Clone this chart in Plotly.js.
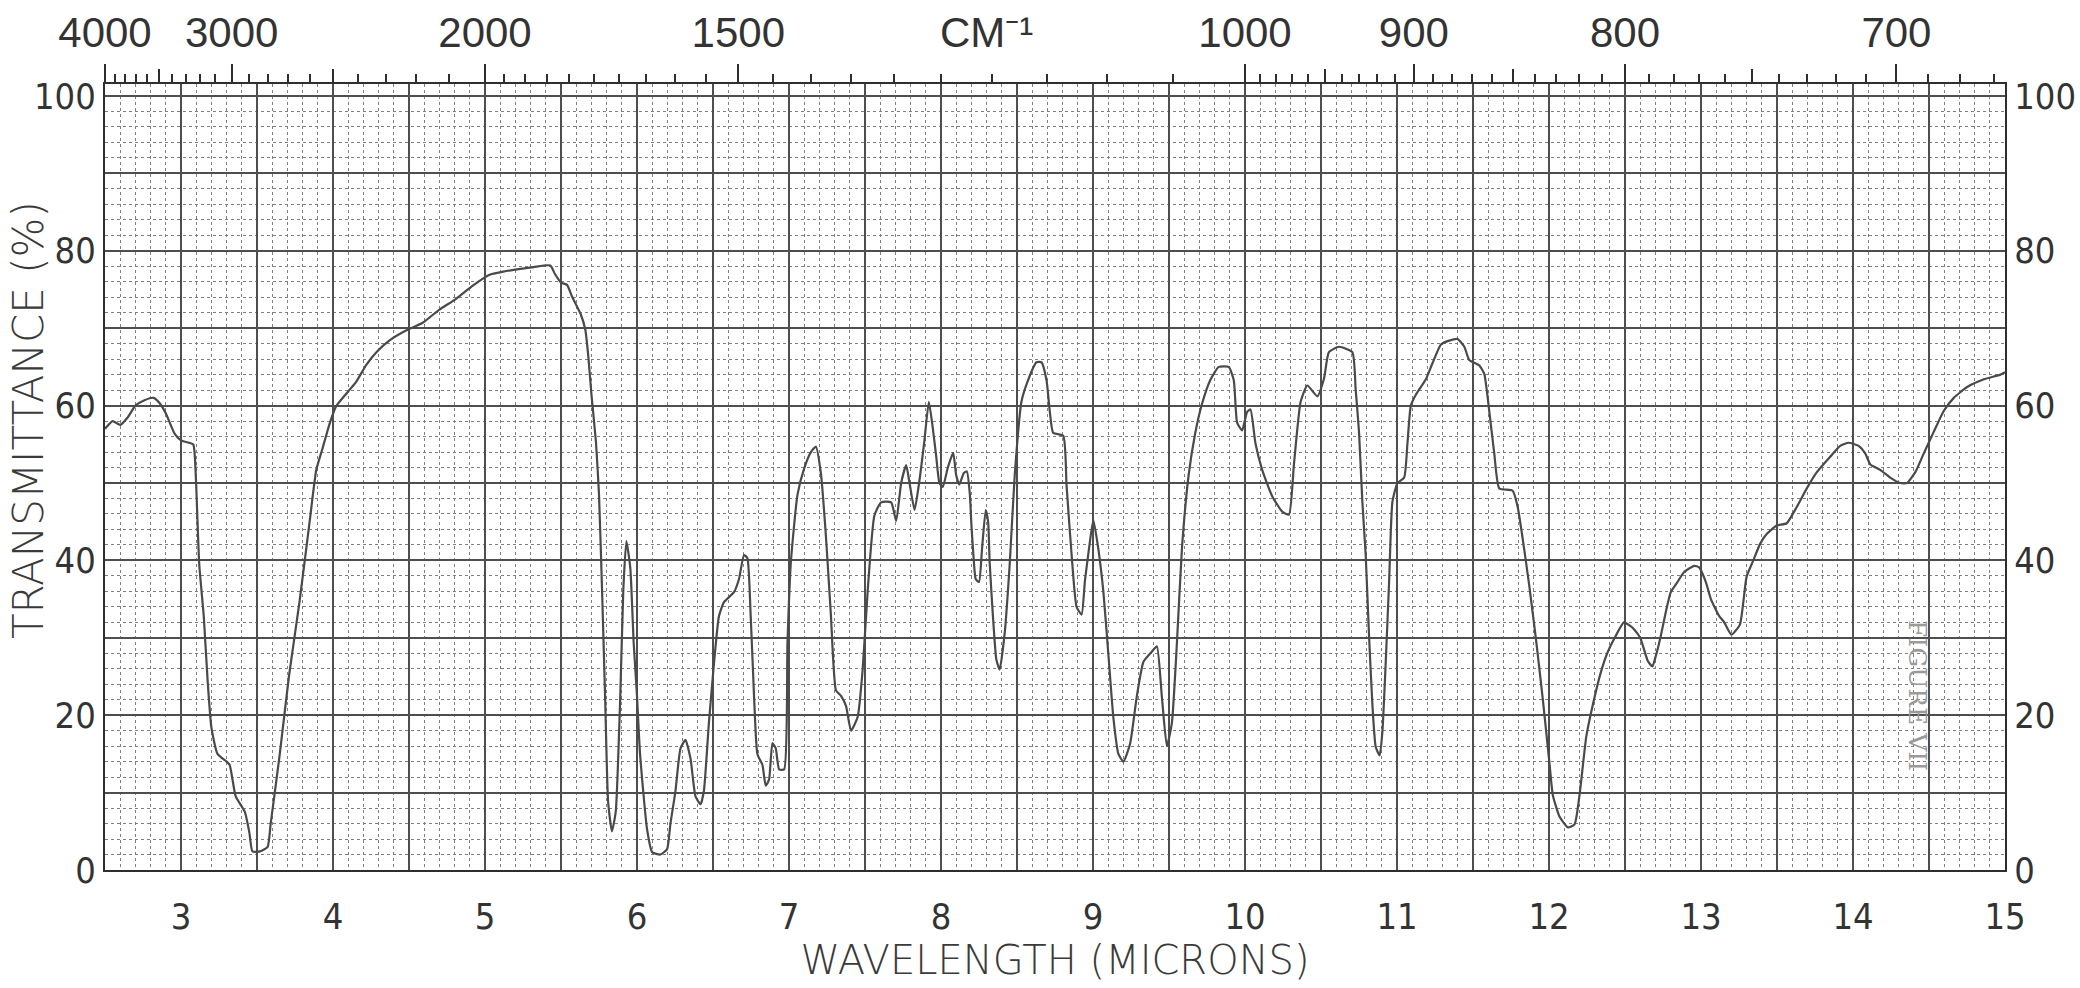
<!DOCTYPE html>
<html>
<head>
<meta charset="utf-8">
<script src="https://cdn.plot.ly/plotly-3.0.1.min.js"></script>
<style>
  html, body { margin: 0; padding: 0; background: #ffffff; }
  #chart { width: 2080px; height: 988px; }
</style>
</head>
<body>
<div id="chart"></div>
<script>
// ---- Spectrum data (wavelength in microns, transmittance in %) ----
const wavelength = [
  2.50, 2.55, 2.60, 2.65, 2.70, 2.76, 2.82, 2.86, 2.90, 2.93, 2.96, 3.00, 3.08, 3.09, 3.10, 3.12, 3.15, 3.175, 3.20, 3.24,
  3.30, 3.32, 3.36, 3.42, 3.45, 3.47, 3.52, 3.57, 3.59, 3.65, 3.71, 3.78, 3.85, 3.89, 3.93, 3.98, 4.02, 4.09, 4.15, 4.22,
  4.29, 4.37, 4.48, 4.59, 4.70, 4.81, 4.92, 5.03, 5.12, 5.21, 5.32, 5.43, 5.46, 5.50, 5.54, 5.57, 5.63, 5.66, 5.68, 5.70,
  5.73, 5.75, 5.77, 5.79, 5.81, 5.835, 5.86, 5.89, 5.91, 5.93, 5.956, 5.978, 6.00, 6.02, 6.066, 6.10, 6.154, 6.198, 6.22, 6.253,
  6.286, 6.319, 6.352, 6.385, 6.418, 6.44, 6.473, 6.506, 6.539, 6.572, 6.638, 6.671, 6.704, 6.726, 6.748, 6.77, 6.792, 6.825, 6.847, 6.869,
  6.891, 6.913, 6.935, 6.968, 6.99, 7.012, 7.056, 7.10, 7.144, 7.177, 7.21, 7.243, 7.276, 7.309, 7.342, 7.375, 7.408, 7.452, 7.485, 7.518,
  7.562, 7.606, 7.672, 7.705, 7.738, 7.771, 7.793, 7.826, 7.858, 7.891, 7.92, 7.946, 7.968, 7.99, 8.012, 8.045, 8.08, 8.10, 8.12, 8.15,
  8.17, 8.19, 8.20, 8.215, 8.228, 8.25, 8.27, 8.294, 8.31, 8.32, 8.342, 8.364, 8.386, 8.419, 8.452, 8.485, 8.529, 8.573, 8.628, 8.661,
  8.694, 8.716, 8.738, 8.804, 8.826, 8.859, 8.892, 8.925, 8.947, 8.969, 9.002, 9.035, 9.068, 9.101, 9.134, 9.167, 9.20, 9.244, 9.288, 9.332,
  9.387, 9.42, 9.453, 9.486, 9.519, 9.552, 9.585, 9.629, 9.673, 9.717, 9.772, 9.827, 9.893, 9.926, 9.948, 9.981, 10.014, 10.036, 10.069, 10.113,
  10.179, 10.245, 10.289, 10.322, 10.366, 10.41, 10.476, 10.52, 10.552, 10.618, 10.706, 10.728, 10.75, 10.772, 10.794, 10.816, 10.838, 10.86, 10.886, 10.904,
  10.926, 10.948, 10.97, 11.003, 11.047, 11.069, 11.091, 11.124, 11.19, 11.234, 11.289, 11.344, 11.399, 11.443, 11.475, 11.541, 11.574, 11.607, 11.64, 11.673,
  11.761, 11.794, 11.827, 11.871, 11.915, 11.959, 12.003, 12.025, 12.069, 12.124, 12.168, 12.201, 12.245, 12.289, 12.339, 12.383, 12.427, 12.493, 12.537, 12.559,
  12.60, 12.65, 12.68, 12.702, 12.735, 12.768, 12.801, 12.845, 12.889, 12.955, 12.988, 13.032, 13.065, 13.12, 13.153, 13.20, 13.256, 13.30, 13.344, 13.388,
  13.432, 13.498, 13.564, 13.63, 13.696, 13.762, 13.85, 13.916, 13.971, 14.037, 14.081, 14.114, 14.179, 14.245, 14.311, 14.355, 14.41, 14.465, 14.531, 14.597,
  14.663, 14.751, 14.861, 14.971, 15.0
];
const transmittance = [
  57.0, 58.0, 57.5, 58.5, 60.0, 60.7, 61.0, 60.3, 59.0, 57.6, 56.3, 55.5, 55.0, 53.7, 49.7, 39.5, 32.7, 24.5, 18.4, 15.0,
  14.0, 13.6, 9.5, 7.5, 4.8, 2.4, 2.4, 3.0, 6.0, 15.0, 25.0, 34.7, 45.6, 51.7, 54.4, 57.8, 59.9, 61.6, 63.0, 65.3,
  67.0, 68.4, 69.7, 70.7, 72.4, 73.8, 75.5, 76.9, 77.3, 77.6, 77.9, 78.1, 77.0, 75.9, 75.6, 74.2, 71.8, 69.8, 66.3, 61.5,
  55.3, 48.5, 36.2, 22.5, 8.8, 5.0, 7.5, 22.5, 36.2, 42.5, 39.0, 29.4, 22.5, 15.0, 5.3, 2.3, 2.0, 2.7, 6.0, 10.2,
  15.7, 16.8, 14.4, 9.5, 8.5, 10.2, 19.0, 26.6, 32.8, 34.6, 35.9, 37.6, 40.7, 40.3, 32.8, 22.5, 15.0, 13.6, 10.9, 11.7,
  16.4, 15.7, 13.0, 13.0, 29.4, 39.7, 48.5, 51.9, 54.0, 54.7, 51.2, 43.1, 32.8, 23.2, 22.5, 21.2, 18.0, 19.8, 26.0, 36.2,
  45.8, 47.5, 47.5, 45.1, 50.0, 52.3, 50.0, 46.5, 50.3, 55.5, 60.5, 57.1, 53.5, 50.0, 49.5, 52.0, 53.9, 51.0, 49.8, 51.3,
  51.5, 48.5, 44.6, 40.2, 37.6, 37.2, 41.5, 46.5, 45.0, 39.8, 32.7, 27.2, 25.9, 30.6, 39.5, 51.0, 60.5, 63.3, 65.6, 65.6,
  63.3, 59.2, 56.5, 56.1, 49.7, 40.8, 34.0, 33.0, 37.4, 40.8, 45.2, 41.5, 36.0, 27.9, 19.7, 15.0, 14.0, 16.3, 22.4, 26.9,
  28.2, 28.9, 22.4, 16.0, 19.0, 29.3, 41.5, 51.0, 56.5, 60.2, 63.3, 65.0, 65.0, 63.3, 57.8, 56.8, 59.2, 59.5, 55.1, 51.7,
  48.3, 46.3, 45.9, 52.4, 60.5, 62.6, 61.2, 63.5, 66.9, 67.6, 66.9, 62.1, 56.6, 47.6, 40.7, 30.3, 21.4, 15.9, 14.8, 17.9,
  26.9, 37.2, 47.6, 50.0, 50.7, 55.2, 60.0, 61.4, 63.4, 65.5, 67.9, 68.4, 68.6, 67.6, 65.9, 65.2, 64.1, 59.3, 53.8, 49.3,
  49.0, 46.9, 42.8, 36.6, 29.7, 22.1, 13.8, 9.7, 6.9, 5.5, 5.9, 9.7, 17.2, 21.4, 25.4, 28.0, 29.8, 32.0, 31.5, 31.1,
  30.0, 27.0, 26.3, 27.6, 30.2, 33.3, 35.9, 37.2, 38.5, 39.3, 39.1, 37.2, 35.0, 32.8, 32.0, 30.4, 31.7, 37.9, 40.0, 42.1,
  43.4, 44.5, 44.8, 46.9, 49.3, 51.4, 53.4, 54.8, 55.2, 54.8, 53.8, 52.4, 51.7, 50.7, 50.0, 50.0, 51.4, 53.8, 56.6, 59.3,
  61.0, 62.4, 63.4, 64.0, 64.3
];

// ---- Tick labels ----
const micronLabels = [3, 4, 5, 6, 7, 8, 9, 10, 11, 12, 13, 14, 15];
const micronGrid = [3, 3.5, 4, 4.5, 5, 5.5, 6, 6.5, 7, 7.5, 8, 8.5, 9, 9.5, 10, 10.5, 11, 11.5, 12, 12.5, 13, 13.5, 14, 14.5, 15];
const transGrid = [0, 10, 20, 30, 40, 50, 60, 70, 80, 90, 100];
const transLabels = [0, 20, 40, 60, 80, 100];
const wavenumberLabels = [4000, 3000, 2000, 1500, 1000, 900, 800, 700];
const wavenumberMedium = [3500, 2500, 950, 850, 750];
const wavenumberMinor = [
  3900, 3800, 3700, 3600, 3400, 3300, 3200, 3100,
  2900, 2800, 2700, 2600, 2400, 2300, 2200, 2100,
  1950, 1900, 1850, 1800, 1750, 1700, 1650, 1600, 1550,
  1450, 1400, 1350, 1300, 1250, 1200, 1150, 1100, 1050,
  990, 980, 970, 960, 940, 930, 920, 910,
  890, 880, 870, 860, 840, 830, 820, 810,
  790, 780, 770, 760, 740, 730, 720, 710,
  690, 680, 670
];
const xTitle = 'WAVELENGTH (MICRONS)';
const yTitle = 'TRANSMITTANCE (%)';
const unitLabel = 'CM⁻¹';
const figureLabel = 'FIGURE VII';

const toMicron = nu => 10000 / nu;

const RANGE_X = [2.5, 15];
const RANGE_Y = [0, 101.55];
const INK = '#2e2e2e';
const NUM_FONT = {family: '"DejaVu Sans Condensed", "Liberation Sans Narrow", "Liberation Sans", sans-serif', size: 36, color: '#333333'};
const TOP_FONT = {family: '"Liberation Sans", Arimo, sans-serif', size: 42, color: '#333333'};
const TITLE_FONT = {family: '"DejaVu Sans", "Liberation Sans", sans-serif', size: 40, color: '#3a3a3a', weight: 200};

const helper = (xa, ya) => ({type: 'scatter', mode: 'lines', x: [], y: [], xaxis: xa, yaxis: ya, showlegend: false, hoverinfo: 'skip'});

const traces = [
  {
    type: 'scatter', mode: 'lines', x: wavelength, y: transmittance,
    line: {color: '#4a4a4a', width: 2.2, shape: 'spline', smoothing: 0.5},
    hoverinfo: 'x+y', showlegend: false, name: 'Transmittance'
  },
  helper('x2', 'y'), helper('x3', 'y'), helper('x4', 'y'), helper('x', 'y2')
];

const topAxisBase = {
  overlaying: 'x', side: 'top', anchor: 'y', range: RANGE_X, fixedrange: true,
  showgrid: false, zeroline: false, ticks: 'outside', tickcolor: INK, tickwidth: 2,
  tickmode: 'array', showline: true, linecolor: INK, linewidth: 2
};

const layout = {
  width: 2080, height: 988,
  margin: {l: 105, r: 75, t: 84, b: 118, pad: 0},
  paper_bgcolor: '#ffffff', plot_bgcolor: '#ffffff',
  showlegend: false, hovermode: false,
  xaxis: {
    range: RANGE_X, fixedrange: true, automargin: false,
    tickmode: 'array', tickvals: micronGrid,
    ticktext: micronGrid.map(v => micronLabels.includes(v) ? String(v) : ''),
    ticks: '', tickfont: NUM_FONT, ticklabelstandoff: 14,
    showgrid: true, gridcolor: '#4e4e4e', gridwidth: 2,
    minor: {tick0: 2.5, dtick: 0.1, showgrid: true, gridcolor: '#808080', griddash: 'dot', gridwidth: 1},
    zeroline: false, showline: true, linecolor: INK, linewidth: 2,
    title: {text: xTitle, font: TITLE_FONT, standoff: 4}
  },
  yaxis: {
    range: RANGE_Y, fixedrange: true, automargin: false,
    tickmode: 'array', tickvals: transGrid,
    ticktext: transGrid.map(v => transLabels.includes(v) ? String(v) : ''),
    ticks: '', tickfont: NUM_FONT, ticklabelstandoff: 0,
    showgrid: true, gridcolor: '#4e4e4e', gridwidth: 2,
    minor: {tick0: 0, dtick: 2, showgrid: true, gridcolor: '#808080', griddash: 'dot', gridwidth: 1},
    zeroline: false, showline: true, linecolor: INK, linewidth: 2
  },
  yaxis2: {
    overlaying: 'y', side: 'right', anchor: 'x', range: RANGE_Y, fixedrange: true,
    tickmode: 'array', tickvals: transLabels, ticktext: transLabels.map(String),
    ticks: '', tickfont: NUM_FONT, ticklabelstandoff: 0,
    showgrid: false, zeroline: false, showline: true, linecolor: INK, linewidth: 2
  },
  xaxis2: Object.assign({}, topAxisBase, {
    tickvals: wavenumberLabels.map(toMicron), ticktext: wavenumberLabels.map(String),
    ticklen: 18, tickfont: TOP_FONT, ticklabelstandoff: 0
  }),
  xaxis3: Object.assign({}, topAxisBase, {
    tickvals: wavenumberMedium.map(toMicron), ticklen: 13, showticklabels: false
  }),
  xaxis4: Object.assign({}, topAxisBase, {
    tickvals: wavenumberMinor.map(toMicron), ticklen: 8, tickwidth: 2, showticklabels: false
  }),
  annotations: [
    {text: yTitle, xref: 'paper', x: -0.0405, xanchor: 'center', yref: 'paper', y: 0.5725, yanchor: 'middle',
     textangle: -90, showarrow: false, font: Object.assign({}, TITLE_FONT, {size: 42})},
    {text: unitLabel, x: 8.3, xref: 'x', y: 1.065, yref: 'paper', yanchor: 'middle',
     showarrow: false, font: TOP_FONT},
    {text: figureLabel, x: 14.42, xref: 'x', y: 22.5, yref: 'y', textangle: 90,
     showarrow: false, font: {family: '"DejaVu Serif", serif', size: 25, color: '#9a9a9a'}}
  ]
};

Plotly.newPlot('chart', traces, layout, {displayModeBar: false, staticPlot: false, responsive: false});
</script>
</body>
</html>
